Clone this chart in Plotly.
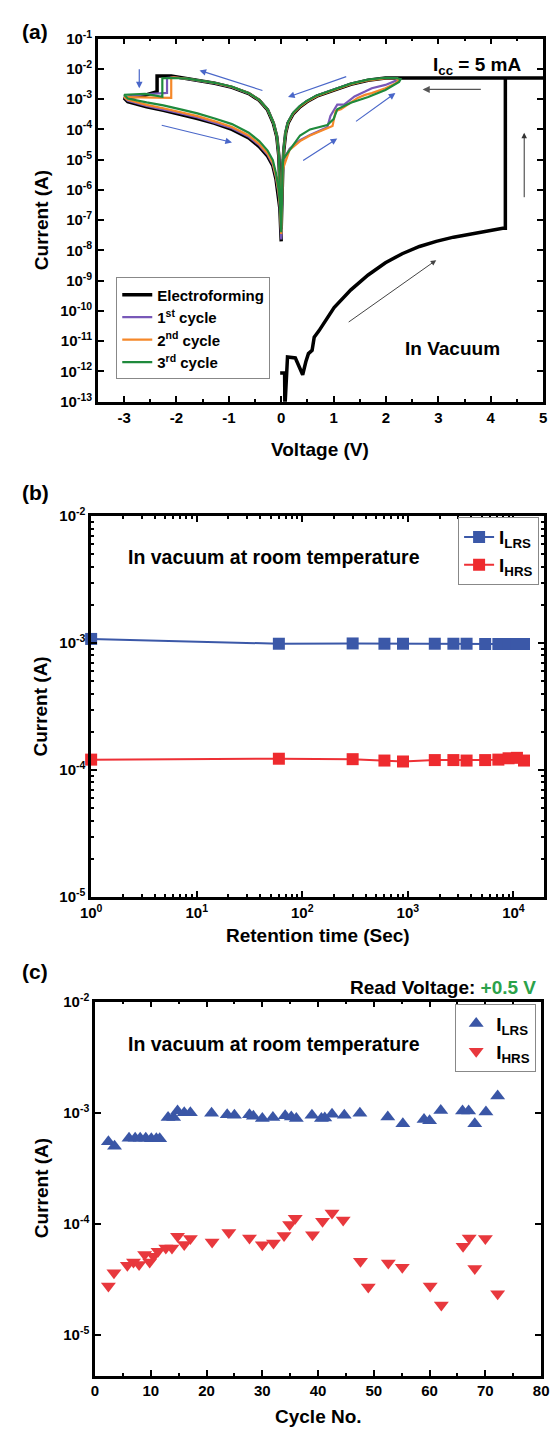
import plotly.graph_objects as go

# ================= DATA =================
# ---- (a) I-V curves (Voltage in V, Current in A) ----
v_neg_lrs = [0.0, -0.02, -0.03, -0.046, -0.085, -0.15, -0.26, -0.42, -0.62, -0.94, -1.27, -1.79, -2.05]
v_neg_hrs = [-2.93, -2.57, -2.25, -1.92, -1.6, -1.27, -0.94, -0.62, -0.42, -0.26, -0.16, -0.1, -0.05, -0.026, 0.0]
v_pos_lrs = [2.2, 1.99, 1.66, 1.33, 1.01, 0.68, 0.49, 0.36, 0.23, 0.13, 0.085, 0.05, 0.03, 0.02, 0.0]

# Electroforming
ef_form_v = [-0.02, 0.04, 0.065, 0.07, 0.12, 0.27, 0.36, 0.41, 0.47, 0.52, 0.59, 0.63, 0.72, 0.85, 1.01,
             1.33, 1.66, 1.99, 2.31, 2.64, 2.96, 3.29, 3.61, 3.94, 4.23, 4.28, 4.28, 5.0]
ef_form_i = [9e-13, 9e-13, 9e-13, 6e-14, 3e-12, 2.8e-12, 1.1e-12, 7.8e-13, 2.1e-12, 3.9e-12, 5e-12, 1.35e-11,
             2.2e-11, 4.7e-11, 1.3e-10, 5e-10, 1.55e-9, 3.9e-9, 7.8e-9, 1.35e-8, 2.0e-8, 2.75e-8, 3.5e-8,
             4.3e-8, 5.4e-8, 5.4e-8, 5e-3, 5e-3]
ef_pos_lrs_i = [5.0e-3, 5.0e-3, 4.2e-3, 3.1e-3, 2.0e-3, 1.25e-3, 8.2e-4, 5.6e-4, 3.3e-4, 1.6e-4, 7.5e-5, 2.1e-5, 5e-6, 7e-7, 5e-8]
ef_neg_lrs_i = [5e-8, 6.5e-7, 3e-6, 1.35e-5, 5.8e-5, 1.6e-4, 4.4e-4, 9.1e-4, 1.52e-3, 2.45e-3, 3.35e-3, 4.65e-3, 5.5e-3]
ef_reset_v = [-2.1, -2.37, -2.37, -2.6, -3.0]
ef_reset_i = [5.8e-3, 5.8e-3, 1.75e-3, 1.35e-3, 1.1e-3]
ef_neg_hrs_i = [8.3e-4, 5.6e-4, 4.3e-4, 3.2e-4, 2.3e-4, 1.6e-4, 1.0e-4, 5.2e-5, 2.7e-5, 1.3e-5, 6.3e-6, 2.3e-6, 6.7e-7, 2.5e-7, 2e-8]

# 1st cycle
c1_neg_lrs_i = [2.4e-8, 7e-7, 3.2e-6, 1.4e-5, 6e-5, 1.65e-4, 4.5e-4, 9.3e-4, 1.55e-3, 2.5e-3, 3.4e-3, 4.7e-3, 5.2e-3]
c1_reset_v = [-2.18, -2.18, -2.6, -3.0]
c1_reset_i = [5.0e-3, 1.6e-3, 1.45e-3, 1.15e-3]
c1_neg_hrs_i = [8.8e-4, 6.0e-4, 4.6e-4, 3.4e-4, 2.5e-4, 1.7e-4, 1.1e-4, 5.7e-5, 3.0e-5, 1.45e-5, 7.0e-6, 2.6e-6, 7.5e-7, 2.8e-7, 2.3e-8]
c1_set_v = [0.03, 0.05, 0.16, 0.36, 0.55, 0.75, 0.88, 0.94, 1.07, 1.2, 1.33, 1.4, 1.6, 1.73, 1.99, 2.12, 2.25]
c1_set_i = [6.9e-6, 1.0e-5, 2.3e-5, 4.4e-5, 6.6e-5, 9.1e-5, 1.17e-4, 2.8e-4, 6.6e-4, 6.6e-4, 9.5e-4, 1.23e-3,
            1.78e-3, 2.3e-3, 2.95e-3, 3.7e-3, 4.5e-3]
c1_pos_lrs_i = [5.0e-3, 5.0e-3, 4.3e-3, 3.2e-3, 2.1e-3, 1.3e-3, 8.5e-4, 5.9e-4, 3.5e-4, 1.7e-4, 8.1e-5, 2.3e-5, 5.4e-6, 7.4e-7, 2.3e-8]

# 2nd cycle
c2_neg_lrs_i = [3.5e-8, 7.2e-7, 3.3e-6, 1.45e-5, 6.1e-5, 1.68e-4, 4.55e-4, 9.4e-4, 1.56e-3, 2.52e-3, 3.42e-3, 4.72e-3, 5.2e-3]
c2_reset_v = [-2.1, -2.1, -2.6, -3.0]
c2_reset_i = [5.1e-3, 1.1e-3, 1.15e-3, 1.17e-3]
c2_neg_hrs_i = [9.5e-4, 6.5e-4, 5.0e-4, 3.7e-4, 2.75e-4, 1.85e-4, 1.2e-4, 6.3e-5, 3.3e-5, 1.6e-5, 7.8e-6, 2.9e-6, 8.5e-7, 3.2e-7, 3.5e-8]
c2_set_v = [0.03, 0.05, 0.16, 0.36, 0.55, 0.75, 0.88, 0.98, 1.04, 1.14, 1.27, 1.33, 1.46, 1.6, 1.73, 1.99, 2.18, 2.25]
c2_set_i = [4.2e-6, 6.0e-6, 2.1e-5, 4.1e-5, 6.3e-5, 8.7e-5, 1.1e-4, 1.3e-4, 4.1e-4, 4.6e-4, 6.6e-4, 7.6e-4,
            1.1e-3, 1.38e-3, 1.58e-3, 2.3e-3, 3.3e-3, 4.3e-3]
c2_pos_lrs_i = [5.0e-3, 4.9e-3, 4.2e-3, 3.1e-3, 2.05e-3, 1.27e-3, 8.3e-4, 5.7e-4, 3.4e-4, 1.65e-4, 7.8e-5, 2.2e-5, 5.0e-6, 6.8e-7, 3.5e-8]

# 3rd cycle
c3_neg_lrs_i = [4e-8, 7.5e-7, 3.4e-6, 1.5e-5, 6.3e-5, 1.7e-4, 4.6e-4, 9.5e-4, 1.58e-3, 2.57e-3, 3.47e-3, 4.8e-3, 5.0e-3]
c3_reset_v = [-2.27, -2.27, -2.6, -3.0]
c3_reset_i = [4.9e-3, 1.2e-3, 1.5e-3, 1.4e-3]
c3_neg_hrs_i = [1.05e-3, 7.8e-4, 6.2e-4, 4.6e-4, 3.4e-4, 2.3e-4, 1.5e-4, 7.8e-5, 4.1e-5, 2.0e-5, 9.6e-6, 3.6e-6, 1.05e-6, 4e-7, 4e-8]
c3_set_v = [0.03, 0.1, 0.36, 0.55, 0.88, 1.0, 1.07, 1.33, 1.66, 1.99, 2.25, 2.28]
c3_set_i = [1.0e-5, 1.45e-5, 6.3e-5, 1.0e-4, 1.4e-4, 2.2e-4, 4.6e-4, 7.6e-4, 1.17e-3, 2.0e-3, 3.7e-3, 4.6e-3]
c3_pos_lrs_i = [5.0e-3, 5.1e-3, 4.4e-3, 3.25e-3, 2.15e-3, 1.33e-3, 8.7e-4, 6.0e-4, 3.6e-4, 1.75e-4, 8.5e-5, 2.5e-5, 6e-6, 8e-7, 4e-8]

# ---- (b) retention ----
ret_time = [1, 60, 300, 600, 900, 1800, 2700, 3600, 5400, 7200, 9000, 10800, 12600]
ret_lrs = [1.08e-3, 9.9e-4, 9.95e-4, 9.9e-4, 9.9e-4, 9.9e-4, 9.9e-4, 9.9e-4, 9.85e-4, 9.85e-4, 9.85e-4, 9.85e-4, 9.85e-4]
ret_hrs = [1.21e-4, 1.23e-4, 1.22e-4, 1.19e-4, 1.17e-4, 1.2e-4, 1.2e-4, 1.19e-4, 1.2e-4, 1.21e-4, 1.24e-4, 1.25e-4, 1.19e-4]

# ---- (c) endurance ----
end_lrs_cycle = [2.4, 3.5, 6.1, 7.2, 8.1, 9.1, 10.1, 11, 11.6, 13.1, 14.1, 14.8, 16, 17.1, 20.9, 23.7, 25, 27.7,
                 28.4, 30, 31.9, 34.1, 35.2, 36.1, 38.9, 40.6, 41.2, 42.5, 44.7, 47.5, 52.5, 55.2, 59, 60, 62,
                 65.9, 67, 68.1, 70.1, 72.2]
end_lrs = [5.5e-4, 5.0e-4, 5.9e-4, 5.9e-4, 5.9e-4, 5.9e-4, 5.85e-4, 5.85e-4, 5.85e-4, 9.1e-4, 9.1e-4, 1.04e-3,
           1.0e-3, 1.0e-3, 9.9e-4, 9.6e-4, 9.5e-4, 9.6e-4, 9.3e-4, 8.9e-4, 9.1e-4, 9.4e-4, 9.2e-4, 8.9e-4,
           9.5e-4, 8.9e-4, 9.0e-4, 9.7e-4, 9.5e-4, 9.9e-4, 9.2e-4, 8.0e-4, 8.7e-4, 8.5e-4, 1.05e-3, 1.04e-3,
           1.04e-3, 8.0e-4, 1.02e-3, 1.42e-3]
end_hrs_cycle = [2.4, 3.4, 5.8, 6.9, 7.9, 8.9, 9.8, 10.5, 11.3, 12.7, 13.8, 14.8, 16, 17.1, 21, 24, 27.7, 30, 32,
                 33.9, 34.9, 35.9, 39, 40.8, 42.5, 44.5, 47.6, 49, 52.6, 55.1, 60.1, 62.1, 66, 67.1, 68.1, 70, 72.2]
end_hrs = [2.77e-5, 3.64e-5, 4.26e-5, 4.56e-5, 4.32e-5, 5.31e-5, 4.56e-5, 5.13e-5, 5.69e-5, 6.1e-5, 6.1e-5,
           7.75e-5, 6.53e-5, 7.4e-5, 6.9e-5, 8.4e-5, 7.5e-5, 6.5e-5, 6.75e-5, 7.9e-5, 9.9e-5, 1.13e-4, 8.0e-5,
           1.06e-4, 1.26e-4, 1.09e-4, 4.63e-5, 2.71e-5, 4.47e-5, 4.09e-5, 2.77e-5, 1.87e-5, 6.31e-5, 7.5e-5,
           3.98e-5, 7.4e-5, 2.36e-5]

# ================= LAYOUT HELPERS =================
W, H = 553, 1434
FONT = "Liberation Sans, Arial, sans-serif"
BLUE_ARROW = "#4a67c9"


def px(xp):
    return xp / W


def py(yp):
    return 1 - yp / H


def sup(n):
    return "10<sup>%d</sup>" % n


def base_axis(**kw):
    d = dict(showline=True, linecolor="black", linewidth=2.5, mirror="allticks", ticks="inside",
             ticklen=6, tickwidth=2, tickcolor="black", showgrid=False, zeroline=False,
             ticklabeloverflow="allow",
             tickfont=dict(family=FONT, size=15, color="black", weight="bold"))
    d.update(kw)
    return d


fig = go.Figure()

# ---- (a) ----
curves = [
    ("Electroforming", "black", 3.5,
     ef_form_v + v_pos_lrs + v_neg_lrs + ef_reset_v + v_neg_hrs,
     ef_form_i + ef_pos_lrs_i + ef_neg_lrs_i + ef_reset_i + ef_neg_hrs_i),
    ("1<sup>st</sup> cycle", "#7858b8", 2.2,
     v_neg_lrs + c1_reset_v + v_neg_hrs + c1_set_v + v_pos_lrs,
     c1_neg_lrs_i + c1_reset_i + c1_neg_hrs_i + c1_set_i + c1_pos_lrs_i),
    ("2<sup>nd</sup> cycle", "#f5882a", 2.2,
     v_neg_lrs + c2_reset_v + v_neg_hrs + c2_set_v + v_pos_lrs,
     c2_neg_lrs_i + c2_reset_i + c2_neg_hrs_i + c2_set_i + c2_pos_lrs_i),
    ("3<sup>rd</sup> cycle", "#1f8a3c", 2.2,
     v_neg_lrs + c3_reset_v + v_neg_hrs + c3_set_v + v_pos_lrs,
     c3_neg_lrs_i + c3_reset_i + c3_neg_hrs_i + c3_set_i + c3_pos_lrs_i),
]
for name, col, w, xs, ys in curves:
    fig.add_trace(go.Scatter(x=xs, y=ys, mode="lines", name=name, line=dict(color=col, width=w),
                             xaxis="x", yaxis="y", legend="legend"))

# ---- (b) ----
fig.add_trace(go.Scatter(x=ret_time, y=ret_lrs, mode="lines+markers", name="I<sub>LRS</sub>",
                         line=dict(color="#3b58a8", width=2), marker=dict(symbol="square", size=12, color="#3b58a8"),
                         xaxis="x2", yaxis="y2", legend="legend2", cliponaxis=False))
fig.add_trace(go.Scatter(x=ret_time, y=ret_hrs, mode="lines+markers", name="I<sub>HRS</sub>",
                         line=dict(color="#ee3035", width=2), marker=dict(symbol="square", size=12, color="#ee2a2e"),
                         xaxis="x2", yaxis="y2", legend="legend2", cliponaxis=False))

# ---- (c) ----
fig.add_trace(go.Scatter(x=end_lrs_cycle, y=end_lrs, mode="markers", name="I<sub>LRS</sub>",
                         marker=dict(symbol="triangle-up", size=13, color="#3a56a6"),
                         xaxis="x3", yaxis="y3", legend="legend3"))
fig.add_trace(go.Scatter(x=end_hrs_cycle, y=end_hrs, mode="markers", name="I<sub>HRS</sub>",
                         marker=dict(symbol="triangle-down", size=13, color="#e8383d"),
                         xaxis="x3", yaxis="y3", legend="legend3"))

# ---- axes ----
xa_vals = [-3, -2, -1, 0, 1, 2, 3, 4, 5]
ya_exps = list(range(-13, 0))
yb_exps = [-5, -4, -3, -2]
xb_exps = [0, 1, 2, 3, 4]
yc_exps = [-5, -4, -3, -2]
log_minor_b_y = [m * 10.0 ** e for e in range(-5, -2) for m in range(2, 10)]
log_minor_b_x = [m * 10.0 ** e for e in range(0, 5) for m in range(2, 10)]

leg_font = dict(family=FONT, size=15, color="black", weight="bold")
leg_font_bc = dict(family=FONT, size=19, color="black", weight="bold")

fig.update_layout(
    width=W, height=H, margin=dict(l=0, r=0, t=0, b=0),
    paper_bgcolor="white", plot_bgcolor="white",
    font=dict(family=FONT, color="black"),
    xaxis=base_axis(domain=[px(90), px(551)], anchor="y", range=[-3.5, 5],
                    tickmode="array", tickvals=xa_vals, ticktext=[str(v) for v in xa_vals],
                    minor=dict(dtick=0.5, ticks="inside", ticklen=3, tickwidth=1.5, tickcolor="black")),
    yaxis=base_axis(domain=[py(396), py(28)], anchor="x", type="log", range=[-13, -1],
                    tickmode="array", tickvals=[10.0 ** e for e in ya_exps], ticktext=[sup(e) for e in ya_exps]),
    xaxis2=base_axis(domain=[px(83), px(552)], anchor="y2", type="log", range=[0, 4.29],
                     tickmode="array", tickvals=[10.0 ** e for e in xb_exps], ticktext=[sup(e) for e in xb_exps],
                     minor=dict(tickvals=log_minor_b_x, ticks="inside", ticklen=3, tickwidth=1.5, tickcolor="black")),
    yaxis2=base_axis(domain=[py(898), py(512)], anchor="x2", type="log", range=[-5, -2],
                     tickmode="array", tickvals=[10.0 ** e for e in yb_exps], ticktext=[sup(e) for e in yb_exps],
                     minor=dict(tickvals=log_minor_b_y, ticks="inside", ticklen=3, tickwidth=1.5, tickcolor="black")),
    xaxis3=base_axis(domain=[px(87), px(549)], anchor="y3", range=[0, 80],
                     tickmode="array", tickvals=list(range(0, 90, 10)), ticktext=[str(v) for v in range(0, 90, 10)],
                     minor=dict(dtick=5, ticks="inside", ticklen=3, tickwidth=1.5, tickcolor="black")),
    yaxis3=base_axis(domain=[py(1383), py(1004)], anchor="x3", type="log", range=[-5.364, -2],
                     tickmode="array", tickvals=[10.0 ** e for e in yc_exps], ticktext=[sup(e) for e in yc_exps]),
    legend=dict(x=px(109), y=py(270), xanchor="left", yanchor="top", bgcolor="white",
                bordercolor="#888888", borderwidth=1, font=leg_font, tracegroupgap=0, itemwidth=30),
    legend2=dict(x=px(463), y=py(513), xanchor="left", yanchor="top", bgcolor="white",
                 bordercolor="#888888", borderwidth=1, font=leg_font_bc),
    legend3=dict(x=px(460), y=py(1006), xanchor="left", yanchor="top", bgcolor="white",
                 bordercolor="#888888", borderwidth=1, font=leg_font_bc),
    showlegend=True,
)

ann = []


def txt(text, x, y, size, xref="paper", yref="paper", xanchor="center", yanchor="middle", angle=0, color="black"):
    ann.append(dict(text=text, x=x, y=y, xref=xref, yref=yref, xanchor=xanchor, yanchor=yanchor,
                    showarrow=False, textangle=angle,
                    font=dict(family=FONT, size=size, color=color, weight="bold")))


def arrow(x0, y0, x1, y1, color, width=1.2, xr="x", yr="y"):
    ann.append(dict(x=x1, y=y1, ax=x0, ay=y0, xref=xr, yref=yr, axref=xr, ayref=yr, text="",
                    showarrow=True, arrowhead=2, arrowsize=1.1, arrowwidth=width, arrowcolor=color))


# panel labels
txt("(a)", px(25), py(21), 21)
txt("(b)", px(25), py(488), 21)
txt("(c)", px(25), py(973), 21)

# axis titles
txt("Current (A)", px(31), py(212), 19, angle=-90)
txt("Voltage (V)", px(320), py(444), 19)
txt("Current (A)", px(31), py(705), 19, angle=-90)
txt("Retention time (Sec)", px(318), py(937), 19)
txt("Current (A)", px(31), py(1193), 19, angle=-90)
txt("Cycle No.", px(318), py(1424), 19)

# panel (a) texts
txt("I<sub>cc</sub> = 5 mA", 3.73, -1.89, 19, xref="x", yref="y")
txt("In Vacuum", 3.27, -11.25, 19, xref="x", yref="y")

# panel (b), (c) texts
txt("In vacuum at room temperature", px(272), py(553), 19.5)
txt("In vacuum at room temperature", px(272), py(1047), 19.5)
txt("Read Voltage: <span style='color:#2ba24a'>+0.5 V</span>", px(546), py(990), 19, xanchor="right")

# arrows in (a)
arrow(-2.71, -1.96, -2.71, -2.64, BLUE_ARROW)
arrow(-0.33, -2.73, -1.56, -2.05, BLUE_ARROW)
arrow(1.27, -2.24, 0.13, -2.93, BLUE_ARROW)
arrow(-2.31, -3.85, -0.94, -4.43, BLUE_ARROW)
arrow(0.39, -5.06, 1.07, -4.30, BLUE_ARROW)
arrow(1.40, -3.77, 2.18, -2.80, BLUE_ARROW)
arrow(3.84, -2.68, 2.70, -2.68, "#555555", width=1.3)
arrow(4.64, -6.29, 4.64, -4.11, "#333333", width=1)
arrow(1.26, -10.40, 2.96, -8.32, "#444444", width=1)

fig.update_layout(annotations=ann)
fig.write_html("out.html")
